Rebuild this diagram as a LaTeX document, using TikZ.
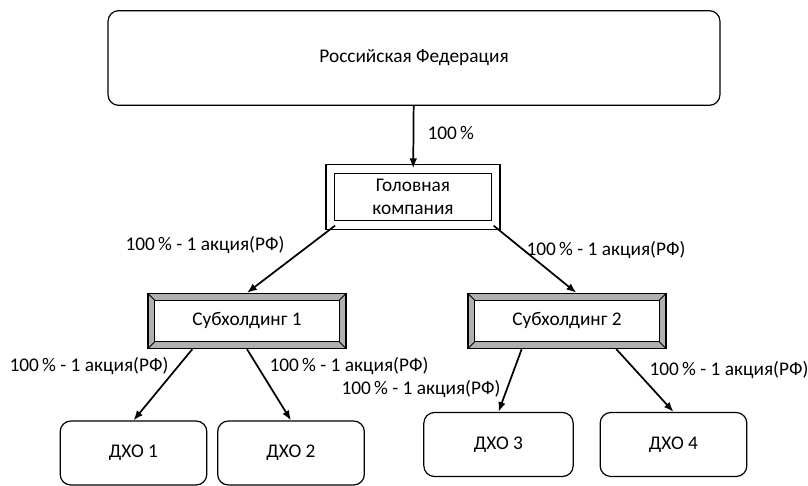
\documentclass[tikz,border=0pt]{standalone}
\usepackage{fontspec}
\setmainfont{Carlito}
\usepackage{xcolor}
\usetikzlibrary{arrows.meta,positioning}
\definecolor{bevelGray}{HTML}{B0B0B0}

\begin{document}
\begin{tikzpicture}[
    x=0.75pt, y=-0.75pt,
    font=\fontsize{14.5}{17}\selectfont,
    roundbox/.style={draw, line width=0.9pt, rounded corners=8pt, align=center, inner sep=0pt},
    frame/.style={draw, line width=1pt, double, double distance=5.5pt, minimum width=124pt, minimum height=42pt, align=center, inner sep=1pt},
    bevel/.style={draw, line width=1pt, fill=bevelGray, minimum width=148.5pt, minimum height=41.25pt,
      path picture={
        \draw[line width=0.8pt, fill=white] ([shift={(5pt,-5pt)}]path picture bounding box.north west) rectangle ([shift={(-5pt,5pt)}]path picture bounding box.south east);
        \draw[line width=0.6pt] (path picture bounding box.north west) -- ++(5pt,-5pt);
        \draw[line width=0.6pt] (path picture bounding box.south west) -- ++(5pt,5pt);
        \draw[line width=0.6pt] (path picture bounding box.north east) -- ++(-5pt,-5pt);
        \draw[line width=0.6pt] (path picture bounding box.south east) -- ++(-5pt,5pt);
      }},
    arrow/.style={-{Latex[length=2.6mm, width=2mm]}, line width=1.3pt},
    share/.style={inner sep=1pt}
  ]
    \useasboundingbox (0,0) rectangle (808,486);

    \node[roundbox, minimum width=459pt, minimum height=71pt] (rf) at (414,58) {Российская Федерация};
    \node[frame] (head) at (413,197) {Головная\\компания};
    \node[bevel] (sub1) at (247,321) {Субхолдинг 1};
    \node[bevel] (sub2) at (567,321) {Субхолдинг 2};
    \node[roundbox, minimum width=110pt, minimum height=48pt] (dzo1) at (133.5,453) {ДХО 1};
    \node[roundbox, minimum width=110pt, minimum height=48pt] (dzo2) at (291,453) {ДХО 2};
    \node[roundbox, minimum width=112pt, minimum height=48pt] (dzo3) at (498.5,444.5) {ДХО 3};
    \node[roundbox, minimum width=110pt, minimum height=48pt] (dzo4) at (673.5,444.5) {ДХО 4};

    % shares
    \node[share, anchor=west] (pRF) at (426,133) {100\,\%};
    \node[share] (pS1) at (205,245) {100\,\% - 1 акция(РФ)};
    \node[share] (pS2) at (606,250) {100\,\% - 1 акция(РФ)};
    \node[share] (pD1) at (89,366) {100\,\% - 1 акция(РФ)};
    \node[share] (pD2) at (349,366) {100\,\% - 1 акция(РФ)};
    \node[share] (pD3) at (421,389) {100\,\% - 1 акция(РФ)};
    \node[share] (pD4) at (729,370) {100\,\% - 1 акция(РФ)};

    \draw[arrow] (rf) -- (head);
    \draw[arrow] ([xshift=4pt]head.south west) -- (sub1.north);
    \draw[arrow] ([xshift=-2pt]head.south east) -- ([xshift=7pt]sub2.north);
    \draw[arrow] ([xshift=-41pt]sub1.south) -- (dzo1.north);
    \draw[arrow] (sub1.south) -- (dzo2.north);
    \draw[arrow] ([xshift=-34pt]sub2.south) -- (dzo3.north);
    \draw[arrow] ([xshift=37pt]sub2.south) -- (dzo4.north);
  \end{tikzpicture}
\end{document}
